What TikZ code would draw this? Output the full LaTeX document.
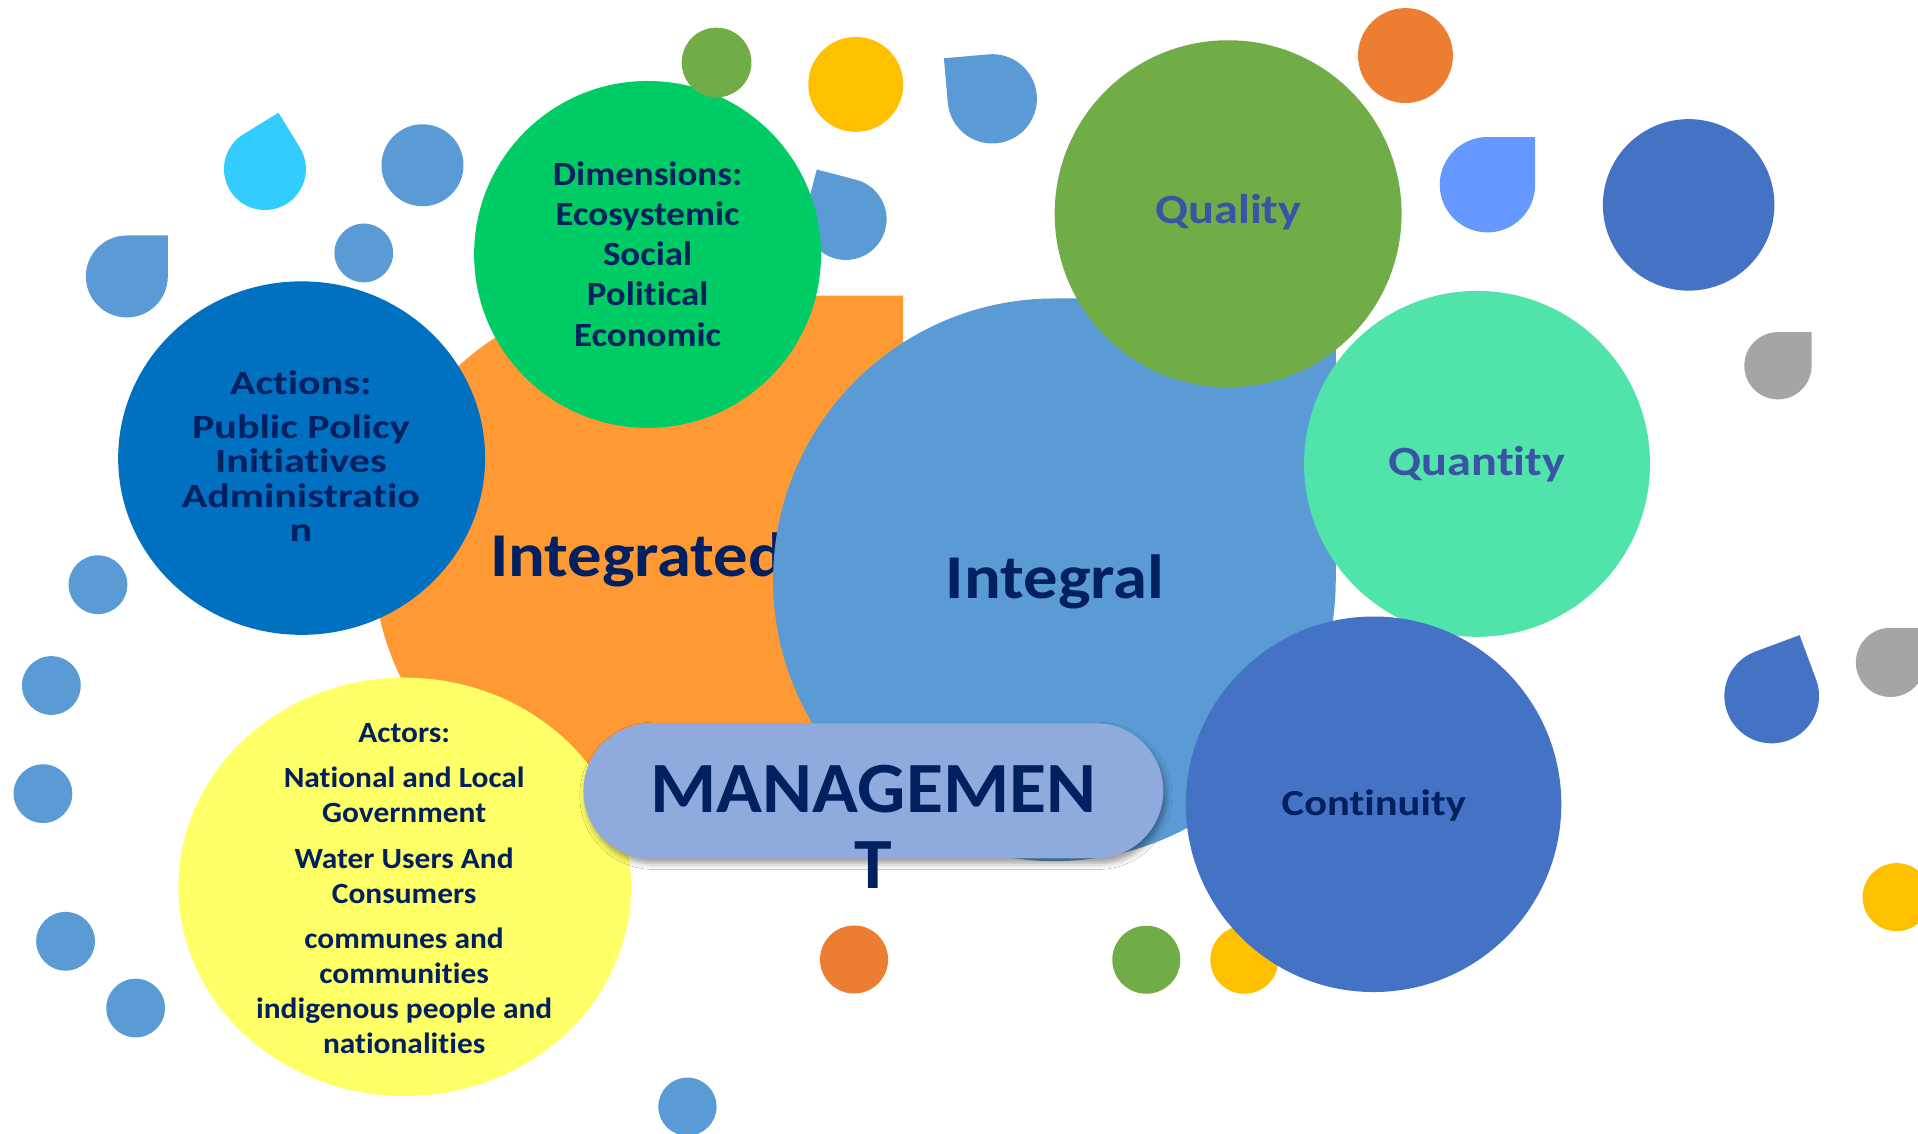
\documentclass[tikz,border=0pt]{standalone}
\usepackage{fontspec}
\newfontfamily\fMan{Carlito}[FakeStretch=1.05, Ligatures=NoCommon]
\newfontfamily\fBig{Carlito}[FakeStretch=1.10, Ligatures=NoCommon]
\newfontfamily\fQ{Carlito}[FakeStretch=1.16, Ligatures=NoCommon]
\newfontfamily\fDim{Carlito}[FakeStretch=1.09, Ligatures=NoCommon]
\newfontfamily\fAct{Carlito}[FakeStretch=1.24, Ligatures=NoCommon]
\newfontfamily\fActor{Carlito}[FakeStretch=1.07, Ligatures=NoCommon]
\usetikzlibrary{shadows.blur}
\definecolor{cNavy}{HTML}{002060}
\definecolor{cQtext}{HTML}{3B53A4}
\definecolor{cOrange}{HTML}{FF9933}
\definecolor{cInt}{HTML}{5B9BD5}
\definecolor{cDim}{HTML}{00CC66}
\definecolor{cAct}{HTML}{0070C0}
\definecolor{cQual}{HTML}{70AD47}
\definecolor{cQuant}{HTML}{50E3AA}
\definecolor{cCont}{HTML}{4472C4}
\definecolor{cActors}{HTML}{FFFF66}
\definecolor{cBox}{HTML}{8FAADC}
\definecolor{cBlue}{HTML}{5B9BD5}
\definecolor{cCyan}{HTML}{33CCFF}
\definecolor{cLight}{HTML}{6699FF}
\definecolor{cGray}{HTML}{A5A5A5}
\definecolor{cOrangeS}{HTML}{ED7D31}
\definecolor{cYellowS}{HTML}{FFC000}
\definecolor{cGreenS}{HTML}{70AD47}
\definecolor{cDark}{HTML}{4472C4}
\newcommand\tdrop[5]{\fill[#1, rotate around={#5:(#2,#3)}] (#2+#4,#3) -- (#2+#4,#3-#4) -- (#2,#3-#4) arc[start angle=-90, end angle=-360, radius=#4] -- cycle;}
\tikzset{
  lbl/.style={text=cNavy, align=center, inner sep=0pt},
  bigtxt/.style={lbl, font=\fBig\bfseries\fontsize{51}{60}\selectfont},
  qtxt/.style={lbl, text=cQtext, font=\fQ\bfseries\fontsize{34}{40}\selectfont},
}
\begin{document}
\begin{tikzpicture}[x=1pt,y=-1pt]
\clip (0,0) rectangle (1568,927);
\fill[white] (0,0) rectangle (1568,927);
% small circles and drops
\fill[cBlue] (345.4,135.1) circle[radius=33.5];
\fill[cBlue] (297.4,206.8) circle[radius=24];
\tdrop{cCyan}{216.6}{138.2}{33.5}{31.4}
\tdrop{cBlue}{103.7}{226}{33.5}{0}
\tdrop{cBlue}{691.5}{179.2}{33.3}{75.3}
\tdrop{cBlue}{811.2}{80.8}{36.5}{95}
\fill[cYellowS] (699.6,69) circle[radius=38.8];
\fill[cOrangeS] (1149,45.4) circle[radius=38.8];
\tdrop{cLight}{1216}{151}{39}{0}
\fill[cDark] (1380.5,167.5) circle[radius=70.1];
\tdrop{cGray}{1453.5}{299}{27.5}{0}
\tdrop{cGray}{1545.5}{541.5}{28.3}{0}
\tdrop{cDark}{1448.4}{569}{38.7}{20.4}
\fill[cYellowS] (1550.5,733.4) circle[radius=27.8];
\fill[cGreenS] (937.1,784.6) circle[radius=27.8];
\fill[cYellowS] (1017.3,784.6) circle[radius=27.8];
\fill[cOrangeS] (698.2,784.4) circle[radius=27.8];
\fill[cBlue] (562,904.7) circle[radius=23.8];
\fill[cBlue] (80.1,478) circle[radius=24];
\fill[cBlue] (42,560.4) circle[radius=24];
\fill[cBlue] (35.1,648.8) circle[radius=24];
\fill[cBlue] (53.6,769.5) circle[radius=24];
\fill[cBlue] (110.9,824.1) circle[radius=24];
% orange integrated drop
\tdrop{cOrange}{521.9}{458.2}{216.5}{0}
\node[bigtxt, anchor=base west] (integrated) at (400.5,471.5) {Integrated};
% dimensions and actions
\fill[cDim] (529.4,208) circle[radius=141.8];
\fill[cAct] (246.6,374.5) ellipse[x radius=150, y radius=144.5];
% integral drop
\tdrop{cInt}{862}{474}{230}{0}
\node[bigtxt, anchor=base] (integral) at (862.5,489.1) {Integral};
% quality, quantity, continuity
\fill[cQual] (1004,174.7) circle[radius=141.8];
\node[qtxt, anchor=base] (quality) at (1004.2,183.1) {Quality};
\fill[cQuant] (1207.5,379.2) circle[radius=141.4];
\node[qtxt, anchor=base] (quantity) at (1207.4,388.8) {Quantity};
\fill[cCont] (1122.9,657.5) circle[radius=153.5];
\node[lbl, font=\fQ\bfseries\fontsize{30}{36}\selectfont, anchor=base] (continuity) at (1123.1,666.3) {Continuity};
% actors
\fill[cActors] (330.9,725) ellipse[x radius=185, y radius=171];
\node[lbl, font=\fActor\bfseries\fontsize{24}{28.6}\selectfont] (actors) at (330.4,728.4)
  {\strut Actors:\\[8.4pt]National and Local\\Government\\[8.4pt]Water Users And\\Consumers\\[8.4pt]communes and\\communities\\indigenous people and\\nationalities\strut};
% management box
\fill[cBox, rounded corners=55, blur shadow={shadow xshift=2pt, shadow yshift=-4pt, shadow blur radius=5pt, shadow opacity=40}] (477,591.4) rectangle (951,701.7);
\node[lbl, font=\fMan\bfseries\fontsize{59}{61.8}\selectfont] (management) at (714,682.9) {\strut MANAGEMEN\\T\strut};
% top small circle over dimensions
\fill[cGreenS] (585.8,51.1) circle[radius=28.5];
% texts of dimensions and actions
\node[lbl, font=\fDim\bfseries\fontsize{27.7}{32.85}\selectfont] (dimensions) at (529.4,210.7)
  {\strut Dimensions:\\Ecosystemic\\Social\\Political\\Economic\strut};
\node[lbl, font=\fAct\bfseries\fontsize{27.7}{28.3}\selectfont] (actions) at (246,377.1)
  {\strut Actions:\\[7.3pt]Public Policy\\Initiatives\\Administratio\\n\strut};
\end{tikzpicture}
\end{document}
